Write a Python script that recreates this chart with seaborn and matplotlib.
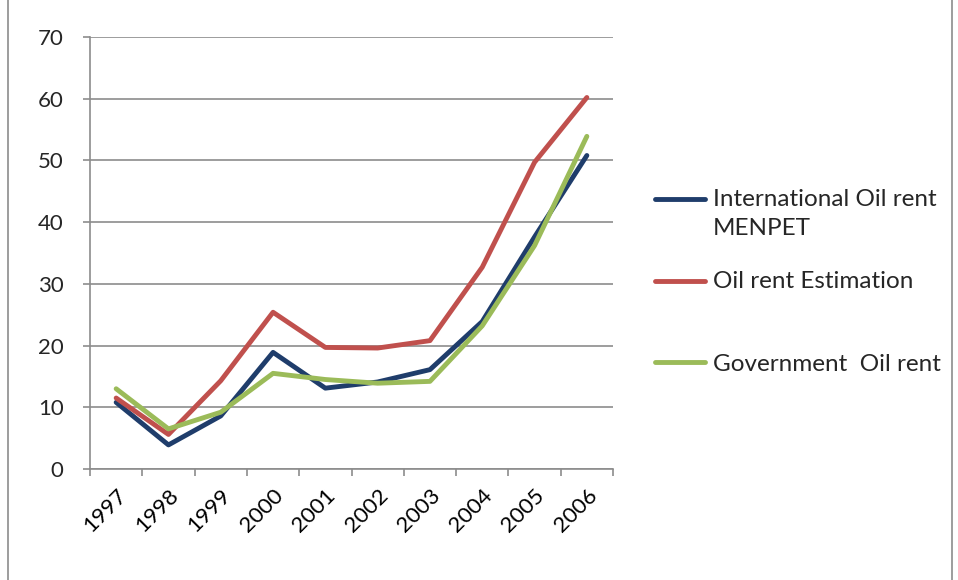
import pandas as pd
import numpy as np
import seaborn as sns
import matplotlib.pyplot as plt
from matplotlib.patches import Rectangle

# data
years = ['1997', '1998', '1999', '2000', '2001', '2002', '2003', '2004', '2005', '2006']
intl_rent = [10.8, 3.9, 8.6, 18.9, 13.1, 14.1, 16.1, 23.9, 37.6, 50.8]
estim_rent = [11.5, 5.6, 14.3, 25.4, 19.7, 19.6, 20.8, 32.7, 49.7, 60.2]
gov_rent = [13.0, 6.5, 9.2, 15.5, 14.5, 13.9, 14.2, 23.2, 36.2, 53.9]
series_names = ['International Oil rent\nMENPET', 'Oil rent Estimation', 'Government  Oil rent']
colors = ['#1F3D6B', '#C0504D', '#9BBB59']

df = pd.DataFrame({'year': years * 3,
                   'value': intl_rent + estim_rent + gov_rent,
                   'series': np.repeat(series_names, len(years))})

sns.set_style('white')
plt.rcParams['font.family'] = ['Lato', 'DejaVu Sans']

fig = plt.figure(figsize=(9.58, 5.8), dpi=100)
ax = fig.add_axes([90 / 958, 1 - 469 / 580, (613 - 90) / 958, (469 - 37) / 580])

sns.lineplot(data=df, x='year', y='value', hue='series', palette=colors,
             linewidth=3.5, ax=ax, sort=False)

ax.set_xlim(-0.5, len(years) - 0.5)
ax.set_ylim(0, 70)
ax.set_yticks(range(0, 71, 10))
ax.yaxis.grid(True, color='#8c8c8c', linewidth=1.2)
ax.set_axisbelow(True)
ax.set_xlabel('')
ax.set_ylabel('')

for s in ['top', 'right']:
    ax.spines[s].set_visible(False)
for s in ['left', 'bottom']:
    ax.spines[s].set_color('#8c8c8c')
    ax.spines[s].set_linewidth(1.2)

# category boundary tick marks
ax.set_xticks(np.arange(-0.5, len(years), 1), minor=True)
ax.tick_params(axis='x', which='major', length=0, pad=12, labelsize=16, colors='black')
ax.tick_params(axis='x', which='minor', length=5, color='#8c8c8c', width=1.2, bottom=True)
ax.tick_params(axis='y', which='major', length=5, color='#8c8c8c', width=1.2, left=True,
               labelsize=16, pad=14)
plt.setp(ax.get_xticklabels(), rotation=45, ha='right', rotation_mode='anchor')

# legend: excel style, each entry two lines high, line marker at the first line
handles, _ = ax.get_legend_handles_labels()
ax.get_legend().remove()
leg_labels = ['International Oil rent\nMENPET', 'Oil rent Estimation\n', 'Government  Oil rent']
leg = fig.legend(handles, leg_labels, loc='upper left',
                 bbox_to_anchor=(655 / 958, 1 - 189 / 580), frameon=False,
                 fontsize=17.5, handlelength=2.05, handletextpad=0.33, labelspacing=1.35,
                 borderpad=0, borderaxespad=0)
for t in leg.get_texts():
    t.set_linespacing(1.45)
for i, line in enumerate(leg.get_lines()):
    line.set_linewidth(3.5)
    if i < 2:
        line.set_ydata(np.asarray(line.get_ydata()) + 11)

fig.patches.append(Rectangle((8 / 958, -0.05), (952 - 8) / 958, 1.2,
                             transform=fig.transFigure, fill=False,
                             edgecolor='#8c8c8c', linewidth=1.2))

plt.savefig('out.png', dpi=100)
